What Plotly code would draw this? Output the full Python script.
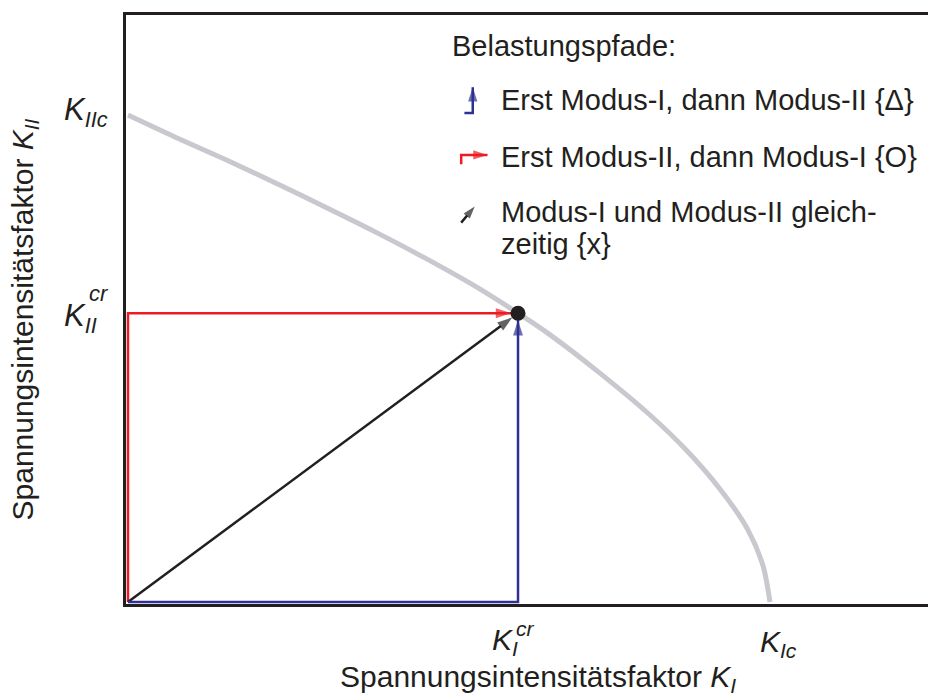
import plotly.graph_objects as go

# Normalised stress intensity factors (K / K_c)
K_Ic = 1.0
K_IIc = 1.0
K_I_cr = 0.6075
K_II_cr = 0.593

# Fracture limit curve K_II(K_I)
curve_KI = [0.0, 0.073, 0.151, 0.229, 0.307, 0.385, 0.463, 0.540, 0.6075,
            0.657, 0.735, 0.813, 0.871, 0.922, 0.964, 0.989, 1.0]
curve_KII = [1.0, 0.955, 0.909, 0.861, 0.811, 0.760, 0.706, 0.649, 0.593,
             0.549, 0.470, 0.384, 0.310, 0.232, 0.152, 0.075, 0.0]

# Loading paths towards the critical point
path_blue_x = [0.0, K_I_cr, K_I_cr]
path_blue_y = [0.0, 0.0, K_II_cr]
path_red_x = [0.0, 0.0, K_I_cr]
path_red_y = [0.0, K_II_cr, K_II_cr]
path_black_x = [0.0, K_I_cr]
path_black_y = [0.0, K_II_cr]

legend_title = "Belastungspfade:"
legend_items = [
    "Erst Modus-I, dann Modus-II {\u0394}",
    "Erst Modus-II, dann Modus-I {O}",
    "Modus-I und Modus-II gleich-",
    "zeitig {x}",
]

INK = "#231f20"
BLUE = "#2e3192"
RED = "#ed1c24"
GREY = "#c7c9cf"
FONT = "Liberation Sans, Arial, sans-serif"

fig = go.Figure()

fig.add_trace(go.Scatter(
    x=curve_KI, y=curve_KII, mode="lines",
    line=dict(color=GREY, width=5, shape="spline", smoothing=0.8),
    hoverinfo="skip"))


def arrow_path(xs, ys, color, width=2.5, head=16, standoff=7):
    n = len(xs)
    fig.add_trace(go.Scatter(
        x=xs, y=ys, mode="lines+markers",
        line=dict(color=color, width=width),
        marker=dict(symbol="arrow", angleref="previous", color=color,
                    size=[0] * (n - 1) + [head],
                    standoff=[0] * (n - 1) + [standoff],
                    line=dict(width=0)),
        hoverinfo="skip"))


arrow_path(path_red_x, path_red_y, RED)
arrow_path(path_black_x, path_black_y, INK)
arrow_path(path_blue_x, path_blue_y, BLUE)

# critical point
fig.add_trace(go.Scatter(
    x=[K_I_cr], y=[K_II_cr], mode="markers",
    marker=dict(color=INK, size=15, line=dict(width=0)),
    hoverinfo="skip"))

# legend glyphs (small bent arrows) and texts, placed in axis units
LEG_TX = 0.578
LEG_ROWS = [1.031, 0.914, 0.800, 0.735]
arrow_path([0.524, 0.537, 0.537], [1.004, 1.004, 1.057], BLUE, width=2.5, head=15, standoff=0)
arrow_path([0.519, 0.519, 0.560], [0.899, 0.918, 0.918], RED, width=2.5, head=15, standoff=0)
arrow_path([0.519, 0.540], [0.779, 0.812], INK, width=2.5, head=13, standoff=0)

annotations = []
annotations.append(dict(x=0.5015, y=1.142, xref="x", yref="y", text=legend_title,
                        showarrow=False, xanchor="left", yanchor="middle",
                        font=dict(size=29)))
for txt, yy in zip(legend_items, LEG_ROWS):
    annotations.append(dict(x=LEG_TX, y=yy, xref="x", yref="y", text=txt,
                            showarrow=False, xanchor="left", yanchor="middle",
                            font=dict(size=29)))

# axis labels at the characteristic values
annotations += [
    dict(x=K_I_cr, y=0, xref="x", yref="paper", text="<i>K</i><sub><i>I</i></sub>",
         showarrow=False, xanchor="right", yanchor="top", yshift=-18, xshift=1,
         borderpad=0, font=dict(size=30)),
    dict(x=K_I_cr, y=0, xref="x", yref="paper", text="<i>cr</i>",
         showarrow=False, xanchor="left", yanchor="middle", yshift=-24, xshift=-4,
         font=dict(size=21)),
    dict(x=K_Ic, y=0, xref="x", yref="paper", text="<i>K</i><sub><i>Ic</i></sub>",
         showarrow=False, xanchor="left", yanchor="top", yshift=-19, xshift=-12,
         font=dict(size=30)),
    dict(x=0, y=K_IIc, xref="paper", yref="y", text="<i>K</i><sub><i>IIc</i></sub>",
         showarrow=False, xanchor="right", yanchor="middle", xshift=-16, yshift=3,
         font=dict(size=31)),
    dict(x=0, y=K_II_cr, xref="paper", yref="y", text="<i>K</i><sub><i>II</i></sub>",
         showarrow=False, xanchor="right", yanchor="middle", xshift=-27, yshift=-5,
         font=dict(size=31)),
    dict(x=0, y=K_II_cr, xref="paper", yref="y", text="<i>cr</i>",
         showarrow=False, xanchor="left", yanchor="middle", xshift=-39, yshift=20,
         font=dict(size=22)),
    # axis titles
    dict(x=0.514, y=0, xref="paper", yref="paper",
         text="Spannungsintensitätsfaktor <i>K</i><sub><i>I</i></sub>",
         showarrow=False, xanchor="center", yanchor="middle", yshift=-74,
         borderpad=0, font=dict(size=30)),
    dict(x=0, y=0.5, xref="paper", yref="paper",
         text="Spannungsintensitätsfaktor <i>K</i><sub><i>II</i></sub>",
         showarrow=False, xanchor="center", yanchor="middle", xshift=-102, yshift=-10,
         textangle=-90, font=dict(size=30)),
]

fig.update_layout(
    width=928, height=697,
    margin=dict(l=126, r=0, t=15, b=93),
    paper_bgcolor="white", plot_bgcolor="white",
    showlegend=False,
    font=dict(family=FONT, color=INK, size=28),
    annotations=annotations,
    xaxis=dict(range=[-0.0031, 1.2461], showgrid=False, zeroline=False,
               showticklabels=False, ticks="", showline=True, linecolor=INK,
               linewidth=3, mirror=True, fixedrange=True),
    yaxis=dict(range=[-0.0041, 1.2053], showgrid=False, zeroline=False,
               showticklabels=False, ticks="", showline=True, linecolor=INK,
               linewidth=3, mirror=False, fixedrange=True),
)

fig.write_html("out.html")
